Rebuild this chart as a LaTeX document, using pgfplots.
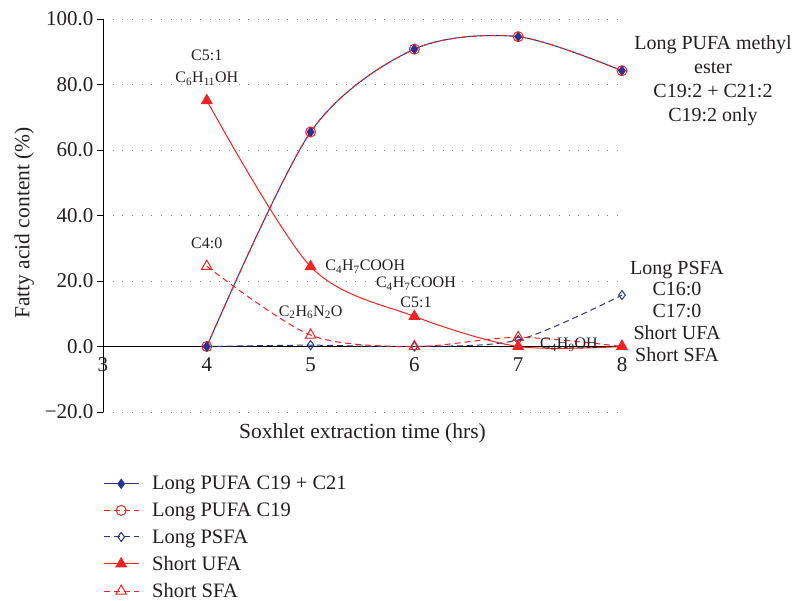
\documentclass[border=0pt]{standalone}
\usepackage{fontspec}
\setmainfont{Liberation Serif}
\usepackage{pgfplots}
\pgfplotsset{compat=1.18}
\definecolor{cblue}{RGB}{40,52,145}
\definecolor{cred}{RGB}{237,36,36}
\definecolor{ctext}{RGB}{35,31,32}
\begin{document}
\begin{tikzpicture}
\begin{axis}[
    scale only axis, width=519pt, height=393pt,
    xmin=3, xmax=8, ymin=-20, ymax=100,
    axis y line*=left, axis x line*=bottom,
    x axis line style={draw=none},
    y axis line style={black, line width=0.9pt},
    xtick={3,...,8}, xticklabels={3,4,5,6,7,8}, xtick style={draw=none},
    xticklabel style={yshift=64pt, font=\fontsize{21}{24}\selectfont, text=ctext},
    ytick={-20,0,...,100},
    yticklabels={−20.0,0.0,20.0,40.0,60.0,80.0,100.0},
    yticklabel style={font=\fontsize{21}{24}\selectfont, text=ctext},
    ytick style={black, line width=0.8pt},
    tick align=outside, major tick length=6pt,
    ymajorgrids,
    major grid style={gray, line width=0.9pt, dash pattern=on 0.9pt off 8.8pt},
    extra y ticks={0}, extra y tick labels={},
    extra y tick style={grid=major, major grid style={black, solid, line width=0.9pt}, major tick length=0pt},
    xlabel={Soxhlet extraction time (hrs)},
    ylabel={Fatty acid content (\%)},
    label style={font=\fontsize{21.5}{24}\selectfont, text=ctext},
    xlabel style={at={(axis description cs:0.5,-0.055)}, anchor=center},
    ylabel style={at={(axis description cs:-0.152,0.481)}, anchor=center},
    clip=false,
    every axis plot/.append style={line width=1pt},
    legend style={at={(0,-0.158)}, anchor=north west, draw=none, fill=none,
        font=\fontsize{20.5}{24}\selectfont, text=ctext, row sep=7.5pt, inner sep=0pt},
    legend cell align=left,
    legend image code/.code={\draw[mark repeat=2,mark phase=2] plot coordinates {(0pt,0pt) (17.5pt,0pt) (35pt,0pt)}; \path (46pt,0pt);},
]
\addplot[cblue, smooth, mark=diamond*, mark size=4.5pt, mark options={fill=cblue}]
    coordinates {(4,0) (5,65.5) (6,90.8) (7,94.6) (8,84.2)};
\addlegendentry{Long PUFA C19 + C21}
\addplot[cred, smooth, dash pattern=on 6pt off 4pt, mark=o, mark size=5pt, mark options={solid}]
    coordinates {(4,0) (5,65.5) (6,90.8) (7,94.6) (8,84.2)};
\addlegendentry{Long PUFA C19}
\addplot[cblue, smooth, dash pattern=on 6pt off 4pt, mark=diamond, mark size=4.5pt, mark options={solid, fill=white}]
    coordinates {(4,0) (5,0.4) (6,0) (7,2.0) (8,15.7)};
\addlegendentry{Long PSFA}
\addplot[cred, smooth, mark=triangle*, mark size=6pt, mark options={fill=cred}]
    coordinates {(4,75.1) (5,24.4) (6,9.2) (7,0) (8,0)};
\addlegendentry{Short UFA}
\addplot[cred, smooth, dash pattern=on 6pt off 4pt, mark=triangle, mark size=6pt, mark options={solid, fill=white}]
    coordinates {(4,24.5) (5,3.5) (6,0) (7,2.8) (8,0)};
\addlegendentry{Short SFA}

\begin{scope}[every node/.style={text=ctext}]
\node[font=\fontsize{16}{22}\selectfont, align=center] at (axis cs:4,85.2) {C5:1\\C\textsubscript{6}H\textsubscript{11}OH};
\node[font=\fontsize{16}{18}\selectfont] at (axis cs:4,31.5) {C4:0};
\node[font=\fontsize{16}{18}\selectfont, anchor=west, inner sep=0pt] at (axis cs:5.14,24.4) {C\textsubscript{4}H\textsubscript{7}COOH};
\node[font=\fontsize{16}{18}\selectfont] at (axis cs:5,10.4) {C\textsubscript{2}H\textsubscript{6}N\textsubscript{2}O};
\node[font=\fontsize{16}{20}\selectfont, align=center] at (axis cs:6.015,16.5) {C\textsubscript{4}H\textsubscript{7}COOH\\C5:1};
\node[font=\fontsize{16}{18}\selectfont, anchor=west, inner sep=0pt] at (axis cs:7.21,0.5) {C\textsubscript{4}H\textsubscript{9}OH};
\node[font=\fontsize{20}{24}\selectfont, align=center] at (axis cs:8.877,81.2) {Long PUFA methyl\\ester\\C19:2 + C21:2\\C19:2 only};
\node[font=\fontsize{20}{21.75}\selectfont, align=center] at (axis cs:8.53,10.8) {Long PSFA\\C16:0\\C17:0\\Short UFA\\Short SFA};
\end{scope}
\end{axis}
\pgfresetboundingbox
\useasboundingbox (-103pt,-189pt) rectangle (690pt,412pt);
\end{tikzpicture}
\end{document}
